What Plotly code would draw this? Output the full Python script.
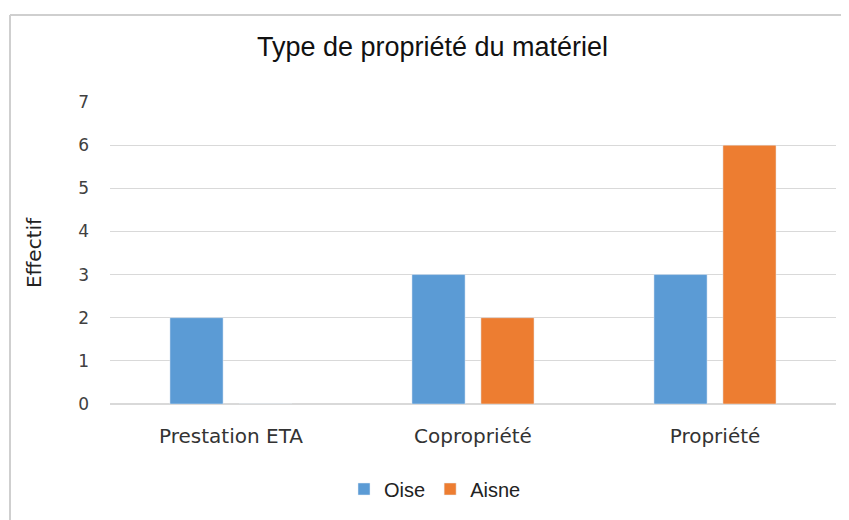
import plotly.graph_objects as go

# Données
categories = ['Prestation ETA', 'Copropriété', 'Propriété']
oise = [2, 3, 3]
aisne = [0, 2, 6]

couleur_oise = '#5B9BD5'
couleur_aisne = '#ED7D31'

fig = go.Figure()
fig.add_trace(go.Bar(x=categories, y=oise, name='Oise', marker_color=couleur_oise))
fig.add_trace(go.Bar(x=categories, y=aisne, name='Aisne', marker_color=couleur_aisne))

# la page ajoute 8 px de marge au body : tout est décalé de 8 px
titre_font = 'Liberation Sans Narrow, Liberation Sans, sans-serif'
texte = 'DejaVu Sans, sans-serif'

cadre_x = (2 - 102) / 726
cadre_y = 1 + (94 - 7) / 302

fig.update_layout(
    width=849, height=520,
    paper_bgcolor='white', plot_bgcolor='white',
    margin=dict(l=102, r=21, t=94, b=124),
    barmode='group', bargap=0.43, bargroupgap=0.23,
    title=dict(text='Type de propriété du matériel', x=0.5, xref='container',
               y=1 - 39 / 520, yref='container', yanchor='middle', xanchor='center',
               font=dict(family=titre_font, size=27, color='#111111')),
    legend=dict(orientation='h', x=427 / 849, xanchor='center', xref='container',
                y=1 - 481 / 520, yanchor='middle', yref='container',
                font=dict(family='Liberation Sans, sans-serif', size=20, color='#222222'),
                itemwidth=30, traceorder='normal'),
    font=dict(family=texte),
    shapes=[
        dict(type='line', xref='paper', yref='paper', x0=cadre_x, x1=1.1,
             y0=cadre_y, y1=cadre_y, line=dict(color='#cfcfcf', width=2)),
        dict(type='line', xref='paper', yref='paper', x0=cadre_x, x1=cadre_x,
             y0=cadre_y, y1=-0.5, line=dict(color='#cfcfcf', width=2)),
    ],
)

fig.update_yaxes(range=[0, 7], dtick=1, showgrid=True, gridcolor='#d9d9d9', gridwidth=1,
                 zeroline=True, zerolinecolor='#d9d9d9', showline=False, ticks='',
                 ticklabelstandoff=20, automargin=False,
                 tickfont=dict(size=17, color='#404040'),
                 title=dict(text='Effectif', standoff=31, font=dict(size=20, color='#222222')))
fig.update_xaxes(showgrid=False, showline=False, ticks='', ticklabelstandoff=18, automargin=False,
                 tickfont=dict(size=20, color='#333333'))

fig.write_html('out.html')
